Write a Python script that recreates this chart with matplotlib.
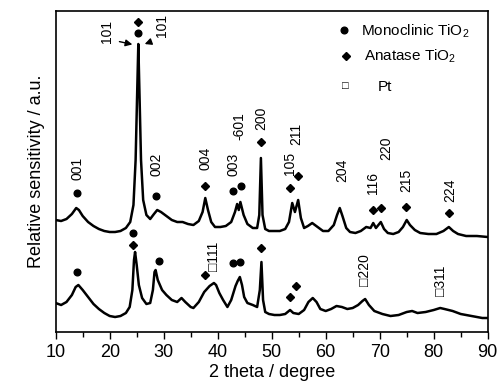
import numpy as np
import matplotlib
matplotlib.use('Agg')
import matplotlib.pyplot as plt

plt.rcParams['font.family'] = ['Liberation Sans', 'DejaVu Sans']
plt.rcParams['mathtext.fontset'] = 'custom'
plt.rcParams['mathtext.rm'] = 'Liberation Sans'

# upper pattern
top_x = [10.0, 11.0, 12.0, 13.0, 13.8, 14.3, 15.0, 16.0, 17.0, 18.0, 19.0, 20.0, 21.0, 22.0, 23.0,
         23.8, 24.4, 24.8, 25.1, 25.3, 25.5, 25.8, 26.2, 26.8, 27.5, 28.2, 28.8, 29.5, 30.5, 31.5,
         32.5, 33.5, 34.5, 35.5, 36.5, 37.2, 37.7, 38.2, 38.8, 39.5, 40.5, 41.5, 42.5, 43.2, 43.6,
         43.9, 44.2, 44.8, 45.5, 46.5, 47.3, 47.7, 48.0, 48.3, 48.8, 49.5, 50.5, 51.5, 52.5, 53.2,
         53.8, 54.3, 54.9, 55.4, 56.0, 56.7, 57.5, 58.5, 59.5, 60.5, 61.5, 62.1, 62.6, 63.1, 63.8,
         64.5, 65.5, 66.5, 67.5, 68.3, 68.8, 69.3, 70.2, 70.8, 71.5, 72.5, 73.5, 74.3, 75.0, 75.6,
         76.5, 77.5, 79.0, 80.5, 81.8, 82.8, 83.6, 84.5, 86.0, 88.0, 90.0]
top_y = [112, 111, 113, 118, 124, 122, 116, 110, 106, 103, 101, 100, 100, 101, 104,
         110, 127, 172, 242, 288, 242, 172, 132, 117, 113, 118, 122, 120, 116, 112,
         110, 110, 108, 107, 111, 120, 134, 122, 110, 105, 105, 106, 110, 120, 128,
         122, 130, 117, 108, 104, 104, 117, 174, 117, 103, 101, 101, 101, 103, 110,
         129, 120, 132, 114, 104, 106, 109, 105, 101, 101, 107, 117, 124, 116, 104,
         100, 99, 101, 105, 104, 109, 104, 110, 103, 99, 98, 100, 105, 112, 107,
         102, 99, 98, 98, 101, 105, 101, 98, 96, 96, 95]

# lower pattern
bot_x = [10.0, 11.0, 12.0, 13.0, 13.7, 14.2, 15.0, 16.0, 17.0, 18.0, 19.0, 20.0, 21.0, 22.0, 23.0,
         23.7, 24.2, 24.5, 24.7, 25.0, 25.4, 26.0, 26.8, 27.5, 28.0, 28.3, 28.5, 28.9, 29.7, 30.5,
         31.5, 32.5, 33.3, 34.0, 35.0, 35.5, 36.5, 37.5, 38.5, 39.3, 39.7, 40.3, 41.0, 41.8, 42.5,
         43.3, 43.7, 44.1, 44.5, 44.9, 45.5, 46.5, 47.3, 47.8, 48.1, 48.4, 48.8, 49.5, 50.5, 51.5,
         52.5, 53.4, 54.0, 55.0, 56.0, 56.8, 57.6, 58.3, 59.0, 60.0, 61.0, 62.0, 63.0, 64.0, 65.0,
         66.0, 66.8, 67.3, 68.0, 69.0, 70.5, 72.0, 73.5, 75.0, 76.0, 77.0, 78.5, 80.0, 81.2, 82.0,
         83.5, 85.0, 87.0, 89.0, 90.0]
bot_y = [29, 27, 30, 37, 45, 47, 42, 35, 28, 23, 19, 16, 15, 16, 19,
         25, 42, 72, 80, 67, 47, 34, 28, 29, 42, 60, 62, 52, 42, 37,
         32, 30, 34, 30, 25, 24, 30, 40, 46, 49, 47, 39, 32, 25, 32,
         46, 51, 55, 47, 35, 29, 27, 25, 42, 70, 32, 20, 18, 17, 17,
         18, 22, 19, 18, 22, 30, 34, 30, 23, 21, 23, 26, 25, 23, 24,
         27, 31, 33, 27, 21, 18, 16, 17, 20, 21, 19, 20, 22, 24, 23,
         21, 18, 16, 14, 14]

# phase markers
mono_x = [14.0, 25.3, 28.5, 42.8, 44.3, 14.0, 24.4, 29.1, 42.8, 44.1]
mono_y = [139, 299, 136, 141, 146, 60, 99, 71, 69, 70]
ana_x = [25.3, 37.7, 48.0, 53.4, 54.9, 68.8, 70.2, 74.8, 82.8, 24.4, 37.6, 48.1, 53.4, 54.5]
ana_y = [310, 146, 190, 144, 156, 122, 124, 125, 119, 87, 57, 84, 35, 46]

# hkl labels
hkl_text = ['001', '101', '101', '002', '004', '003', '-601', '200', '105', '211',
            '204', '116', '220', '215', '224', '\u25a1111', '\u25a1220', '\u25a1311']
hkl_x = [14.1, 19.5, 29.7, 28.7, 37.8, 42.9, 44.1, 48.1, 53.4, 54.6,
         63.0, 68.8, 71.3, 75.0, 83.0, 39.4, 67.3, 81.4]
hkl_y = [164, 301, 307, 168, 174, 168, 206, 214, 169, 198,
         162, 149, 184, 152, 142, 76, 62, 51]

fig = plt.figure(figsize=(4.99, 3.81), dpi=100)
ax = fig.add_axes([0.1116, 0.1286, 0.8658, 0.8425])

ax.plot(top_x, top_y, color='black', lw=1.8)
ax.plot(bot_x, bot_y, color='black', lw=1.8)
ax.plot(mono_x, mono_y, 'o', color='black', ms=4.8, ls='none')
ax.plot(ana_x, ana_y, 'D', color='black', ms=3.8, ls='none')

for t, x, y in zip(hkl_text, hkl_x, hkl_y):
    ax.text(x, y, t, rotation=90, ha='center', va='center', fontsize=10)

# arrows to the 101 peak
ax.annotate('', xy=(24.7, 287), xytext=(21.3, 291),
            arrowprops=dict(arrowstyle='-|>', color='black', lw=1.0, mutation_scale=10))
ax.annotate('', xy=(26.0, 287), xytext=(28.0, 291),
            arrowprops=dict(arrowstyle='-|>', color='black', lw=1.0, mutation_scale=10))

# hand-made legend
ax.plot([63.3], [302], 'o', color='black', ms=4.8)
ax.text(66.6, 301, 'Monoclinic TiO$_2$', fontsize=11, va='center', ha='left')
ax.plot([63.7], [276], 'D', color='black', ms=3.8)
ax.text(67.0, 276, 'Anatase TiO$_2$', fontsize=11, va='center', ha='left')
ax.text(63.6, 246, '\u25a1', fontsize=8, va='center', ha='center')
ax.text(69.6, 245, 'Pt', fontsize=11, va='center', ha='left')

ax.set_xlim(10, 90)
ax.set_ylim(0, 321)
ax.set_xticks(np.arange(10, 91, 10))
ax.set_xticks(np.arange(15, 90, 10), minor=True)
ax.set_yticks([])
ax.tick_params(axis='x', which='major', direction='out', length=5, width=1, labelsize=13)
ax.tick_params(axis='x', which='minor', direction='out', length=3.5, width=1)
for s in ax.spines.values():
    s.set_linewidth(1.2)

ax.set_xlabel('2 theta / degree', fontsize=13, labelpad=2)
ax.set_ylabel('Relative sensitivity / a.u.', fontsize=13, labelpad=8)

fig.savefig('out.png', dpi=100)
